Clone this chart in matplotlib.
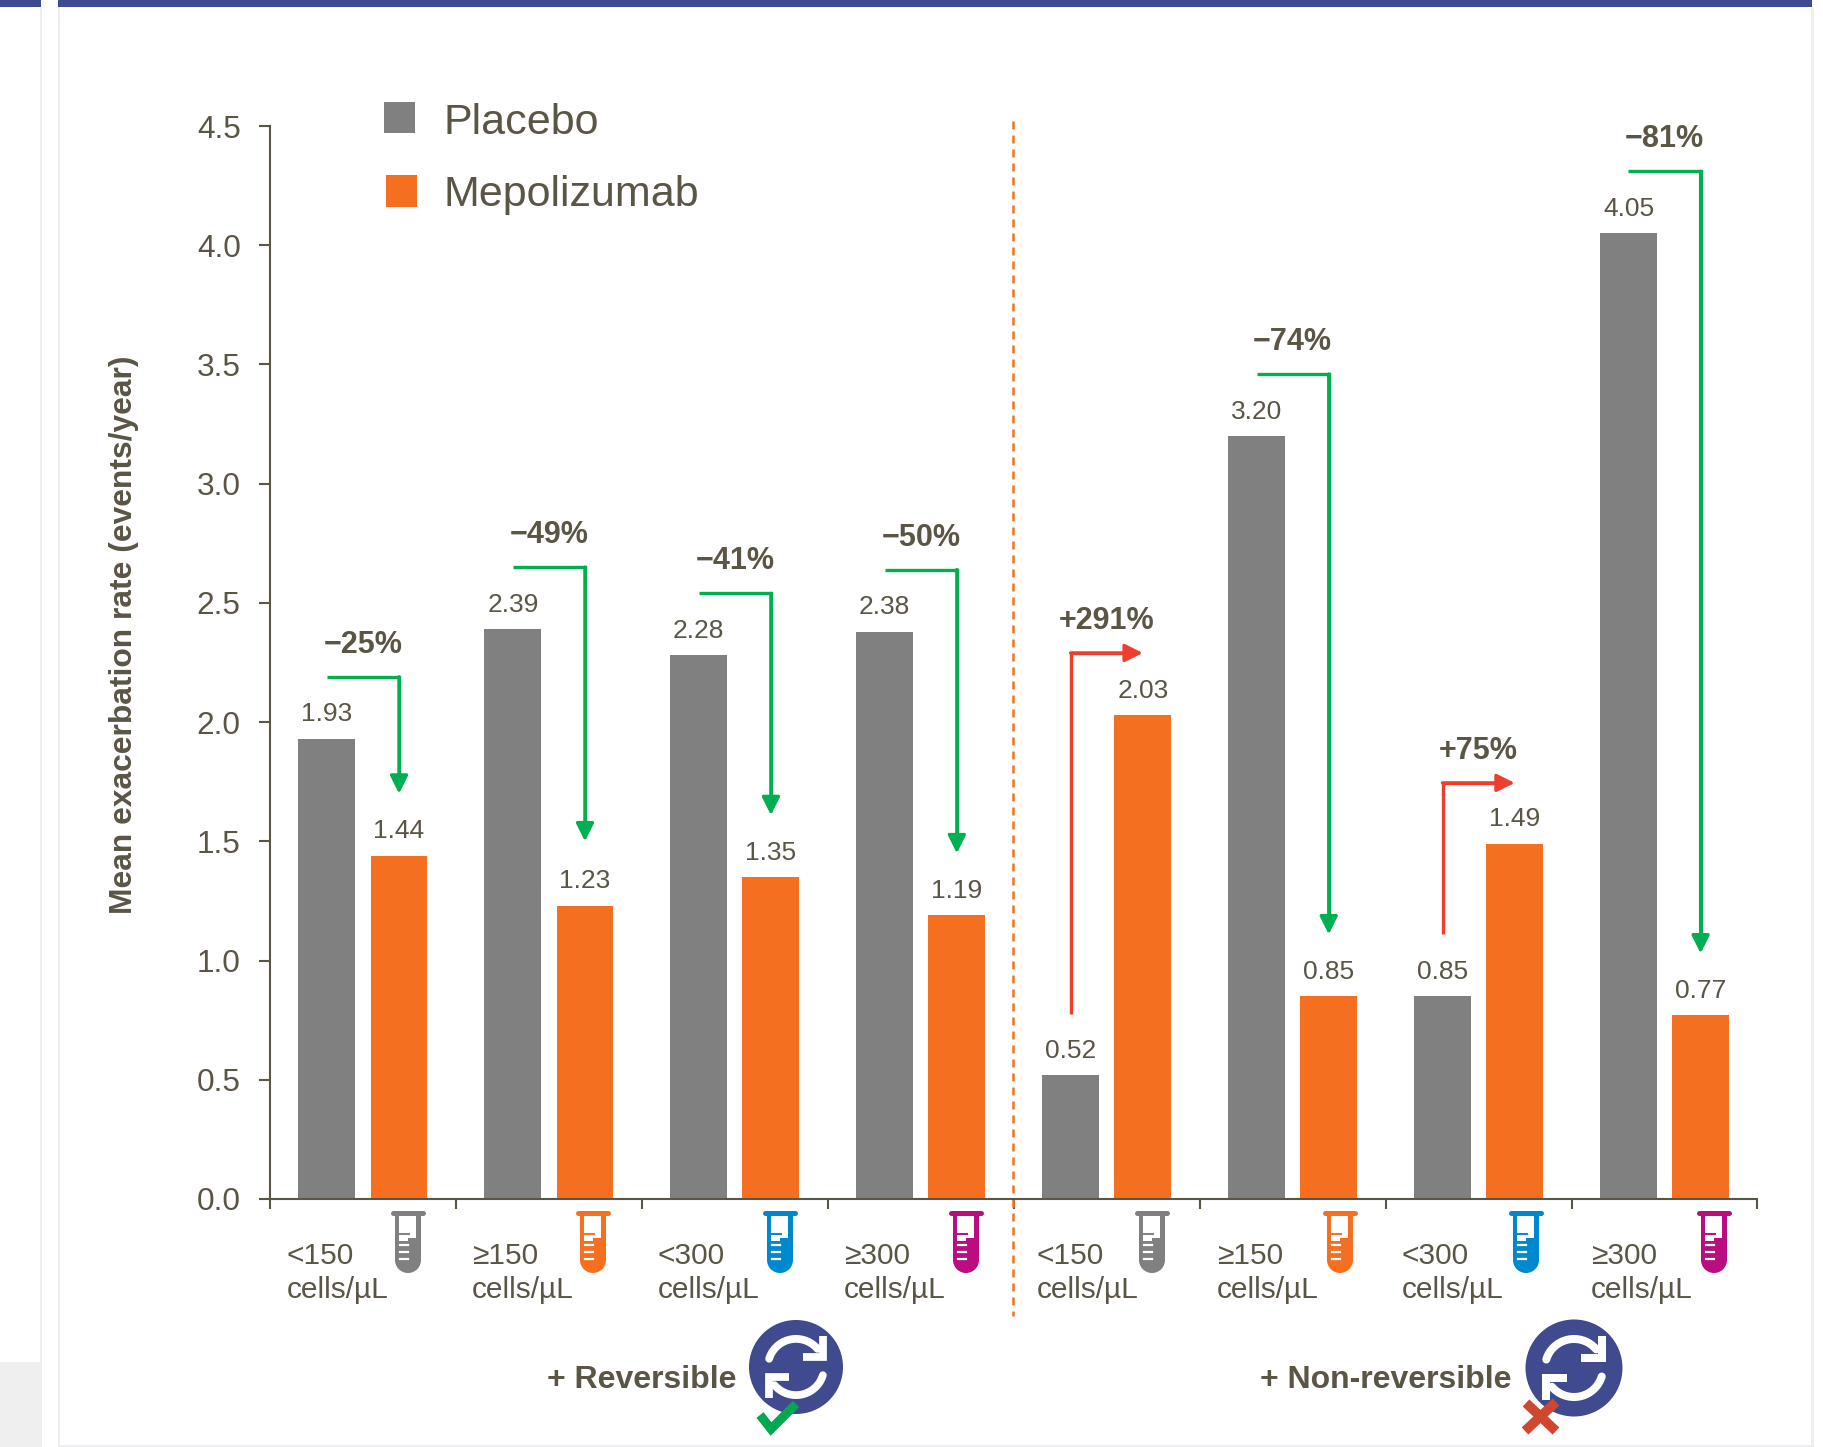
import numpy as np
import matplotlib
matplotlib.use('Agg')
import matplotlib.pyplot as plt
from matplotlib.patches import Rectangle, Circle

plt.rcParams['font.family'] = ['Liberation Sans', 'DejaVu Sans']

# mean exacerbation rates per subgroup
placebo = [1.93, 2.39, 2.28, 2.38, 0.52, 3.20, 0.85, 4.05]
mepolizumab = [1.44, 1.23, 1.35, 1.19, 2.03, 0.85, 1.49, 0.77]
changes = ['−25%', '−49%', '−41%', '−50%', '+291%', '−74%', '+75%', '−81%']
group_labels = ['<150\ncells/µL', '≥150\ncells/µL', '<300\ncells/µL', '≥300\ncells/µL',
                '<150\ncells/µL', '≥150\ncells/µL', '<300\ncells/µL', '≥300\ncells/µL']
yticks = [0.0, 0.5, 1.0, 1.5, 2.0, 2.5, 3.0, 3.5, 4.0, 4.5]
series_names = ['Placebo', 'Mepolizumab']

# change arrows: height of the elbow and where the arrow starts or ends
arrow_top = [2.19, 2.65, 2.54, 2.64, 2.29, 3.46, 1.745, 4.31]
arrow_end = [1.70, 1.50, 1.61, 1.45, 0.775, 1.11, 1.11, 1.03]

TEXT = '#5b5546'
GRAY = '#808080'
ORANGE = '#f47020'
GREEN = '#00b050'
RED = '#ee3e2f'
NAVY = '#3f4a8f'
EDGE = '#eeeef0'
tube_colors = [GRAY, ORANGE, '#0088cf', '#b90d80']

fig = plt.figure(figsize=(18.24, 14.47), dpi=100)

# pixel-space layer for the page furniture and icons
bg = fig.add_axes([0, 0, 1, 1])
bg.set_xlim(0, 1824)
bg.set_ylim(1447, 0)
bg.axis('off')

bg.add_patch(Rectangle((0, 0), 41, 6.5, color=NAVY, lw=0))
bg.add_patch(Rectangle((58, 0), 1754, 6.5, color=NAVY, lw=0))
bg.add_patch(Rectangle((40, 6.5), 2, 1440, color=EDGE, lw=0))
bg.add_patch(Rectangle((58, 6.5), 2, 1440, color=EDGE, lw=0))
bg.add_patch(Rectangle((1811, 6.5), 3, 1440, color=EDGE, lw=0))
bg.add_patch(Rectangle((0, 1362), 41, 85, color='#efefef', lw=0))
bg.add_patch(Rectangle((58, 1445), 1756, 2, color=EDGE, lw=0))


def draw_tube(cx, color):
    bg.plot([cx - 15, cx + 15], [1212.5, 1212.5], color=color, lw=3.6, solid_capstyle='round')
    bg.add_patch(Rectangle((cx - 13, 1212), 26, 48, color=color, lw=0))
    bg.add_patch(Circle((cx, 1260), 13, color=color, lw=0))
    bg.add_patch(Rectangle((cx - 9, 1216), 17, 22, color='white', lw=0))
    bg.add_patch(Rectangle((cx - 9, 1238), 9, 3, color='white', lw=0))
    bg.plot([cx - 8, cx + 1], [1233.5, 1233.5], color=color, lw=1.4)
    for y in [1245, 1252, 1259]:
        bg.plot([cx - 8, cx], [y, y], color='white', lw=1.6)


def draw_refresh(cx, cy, r):
    bg.add_patch(Circle((cx, cy), r, color=NAVY, lw=0))
    k = r / 48.5
    lw = 8 * k * 0.72
    for flip in [1, -1]:
        ang = np.radians(np.linspace(163, 40, 40))
        x = cx + flip * 29 * k * np.cos(ang)
        y = cy - flip * 29 * k * np.sin(ang)
        bg.plot(x, y, color='white', lw=lw, solid_capstyle='round')
        ex = [cx + flip * 7 * k, cx + flip * 28 * k, cx + flip * 28 * k]
        ey = [cy - flip * 10 * k, cy - flip * 10 * k, cy - flip * 32 * k]
        bg.plot(ex, ey, color='white', lw=lw, solid_capstyle='butt', solid_joinstyle='miter')


tube_x = [408, 593, 780, 966, 1152, 1340, 1526, 1714]
for n, cx in enumerate(tube_x):
    draw_tube(cx, tube_colors[n % 4])

draw_refresh(796, 1367, 47)
draw_refresh(1574, 1368, 48.5)
bg.plot([760, 771, 796], [1415, 1429, 1404], color='#00a94f', lw=6.5, solid_joinstyle='miter', solid_capstyle='butt')
bg.plot([1526, 1556], [1403, 1431], color='#d0472f', lw=7, solid_capstyle='butt')
bg.plot([1556, 1525], [1402, 1431], color='#d0472f', lw=7, solid_capstyle='butt')

bg.text(737, 1380, '+ Reversible', fontsize=23, fontweight='bold', color=TEXT, ha='right', va='center')
bg.text(1512, 1380, '+ Non-reversible', fontsize=23, fontweight='bold', color=TEXT, ha='right', va='center')

# legend
bg.add_patch(Rectangle((384, 102), 31, 31, color=GRAY, lw=0))
bg.add_patch(Rectangle((386, 175), 31, 32, color=ORANGE, lw=0))
bg.text(444, 123, series_names[0], fontsize=31, color=TEXT, va='center')
bg.text(444, 195, series_names[1], fontsize=31, color=TEXT, va='center')

# group labels under the axis
label_x = [287, 472, 658, 844, 1037, 1217, 1402, 1591]
for x, lab in zip(label_x, group_labels):
    bg.text(x, 1273, lab, fontsize=21.5, color=TEXT, ha='left', va='center', linespacing=1.24)

# main chart
ax = fig.add_axes([270 / 1824, 248 / 1447, 1487.5 / 1824, 1073 / 1447])
ax.patch.set_alpha(0)
ax.set_xlim(0, 8)
ax.set_ylim(0, 4.5)

idx = np.arange(len(placebo))
gray_x = idx + 0.306
orange_x = idx + 0.694
ax.bar(gray_x, placebo, width=0.306, color=GRAY)
ax.bar(orange_x, mepolizumab, width=0.306, color=ORANGE)

for x, v in zip(gray_x, placebo):
    ax.annotate(f'{v:.2f}', (x, v), xytext=(0, 17.5), textcoords='offset points',
                ha='center', va='center', fontsize=19, color=TEXT)
for x, v in zip(orange_x, mepolizumab):
    ax.annotate(f'{v:.2f}', (x, v), xytext=(0, 17.5), textcoords='offset points',
                ha='center', va='center', fontsize=19, color=TEXT)

for i, label in enumerate(changes):
    x0, x1 = gray_x[i], orange_x[i]
    top, end = arrow_top[i], arrow_end[i]
    up = label.startswith('+')
    color = RED if up else GREEN
    if up:
        ax.plot([x0, x0, x1 - 0.05], [end, top, top], color=color, lw=2.4,
                solid_joinstyle='miter', solid_capstyle='butt')
        start, tip = (x0, top), (x1, top)
    else:
        ax.plot([x0, x1, x1], [top, top, end + 0.05], color=color, lw=2.4,
                solid_joinstyle='miter', solid_capstyle='butt')
        start, tip = (x1, top), (x1, end)
    ax.annotate('', xy=tip, xytext=start,
                arrowprops=dict(arrowstyle='-|>,head_length=0.54,head_width=0.27', color=color,
                                lw=2.4, shrinkA=0, shrinkB=0, mutation_scale=20))
    ax.annotate(label, (i + 0.5, top), xytext=(0, 23), textcoords='offset points',
                ha='center', va='center', fontsize=22, fontweight='bold', color=TEXT)

# divider between the two reversibility groups
ax.plot([3.995, 3.995], [4.52, -0.49], color=ORANGE, lw=1.8, dashes=(3.2, 2.4), clip_on=False)

ax.spines['top'].set_visible(False)
ax.spines['right'].set_visible(False)
ax.spines['left'].set_color(TEXT)
ax.spines['bottom'].set_color(TEXT)
ax.spines['left'].set_linewidth(1.5)
ax.spines['bottom'].set_linewidth(1.5)
ax.set_xticks(range(9))
ax.set_xticklabels([])
ax.set_yticks(yticks)
ax.set_yticklabels([f'{t:.1f}' for t in yticks])
ax.tick_params(axis='y', length=8, width=1.5, color=TEXT, labelcolor=TEXT, labelsize=22.8, pad=13)
ax.tick_params(axis='x', length=7.5, width=1.5, color=TEXT)

bg.text(124, 635, 'Mean exacerbation rate (events/year)', fontsize=22.9, fontweight='bold',
        color=TEXT, rotation=90, ha='center', va='center')

fig.savefig('out.png', dpi=100)
